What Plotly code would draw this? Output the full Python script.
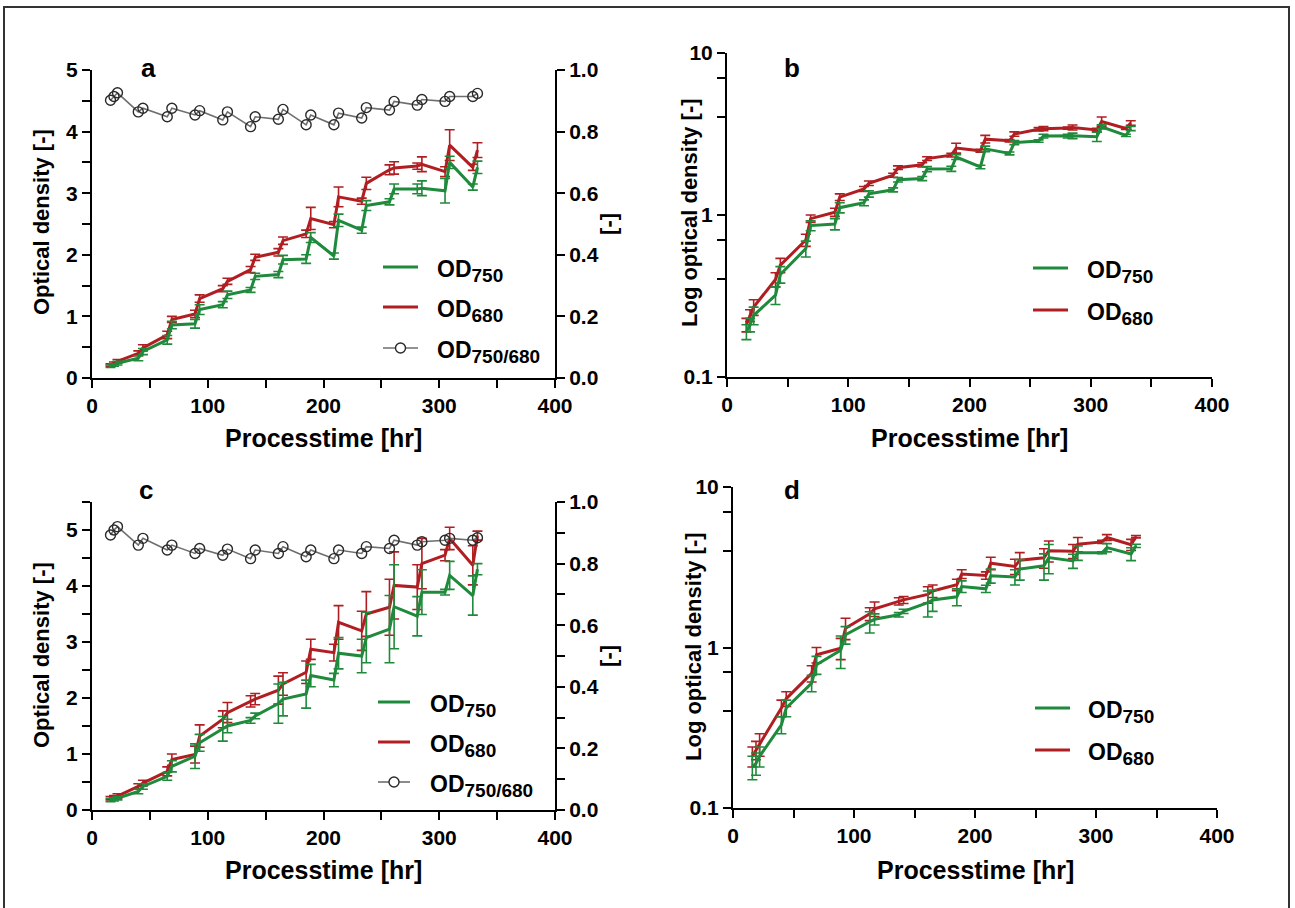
import plotly.graph_objects as go

# Sampling times (hours)
time_hr = [16, 19, 22, 40, 44, 65, 69, 89, 93, 113, 117, 137, 141, 161, 165,
           185, 189, 209, 213, 233, 237, 257, 261, 281, 285, 305, 309, 329, 333]

# Culture 1 (panels a, b)
od750_1 = [0.19, 0.21, 0.24, 0.32, 0.43, 0.62, 0.86, 0.88, 1.11, 1.19, 1.35, 1.43, 1.65, 1.68, 1.92,
           1.93, 2.28, 1.98, 2.56, 2.40, 2.80, 2.86, 3.07, 3.07, 3.08, 3.04, 3.50, 3.10, 3.42]
od750_1_sd = [0.02, 0.02, 0.03, 0.04, 0.05, 0.07, 0.06, 0.07, 0.08, 0.05, 0.06, 0.04, 0.05, 0.05, 0.07,
              0.07, 0.08, 0.05, 0.10, 0.05, 0.08, 0.05, 0.08, 0.08, 0.12, 0.20, 0.10, 0.05, 0.10]
od680_1 = [0.21, 0.24, 0.27, 0.40, 0.49, 0.70, 0.95, 1.04, 1.29, 1.45, 1.57, 1.76, 1.96, 2.04, 2.23,
           2.34, 2.59, 2.49, 2.94, 2.87, 3.16, 3.38, 3.41, 3.44, 3.47, 3.35, 3.78, 3.42, 3.70]
od680_1_sd = [0.02, 0.02, 0.03, 0.04, 0.05, 0.06, 0.05, 0.06, 0.06, 0.05, 0.05, 0.05, 0.05, 0.06, 0.06,
              0.06, 0.18, 0.05, 0.16, 0.05, 0.10, 0.08, 0.10, 0.05, 0.12, 0.08, 0.25, 0.05, 0.12]
ratio_1 = [0.902, 0.914, 0.926, 0.864, 0.876, 0.848, 0.876, 0.854, 0.868, 0.838, 0.864, 0.816, 0.848,
           0.840, 0.872, 0.822, 0.854, 0.822, 0.860, 0.844, 0.878, 0.870, 0.898, 0.886, 0.904, 0.898,
           0.914, 0.914, 0.924]

# Culture 2 (panels c, d)
od750_2 = [0.18, 0.19, 0.21, 0.33, 0.42, 0.60, 0.78, 0.96, 1.20, 1.45, 1.50, 1.60, 1.68, 1.90, 1.98,
           2.07, 2.40, 2.32, 2.80, 2.75, 3.08, 3.23, 3.63, 3.46, 3.89, 3.89, 4.19, 3.83, 4.30]
od750_2_sd = [0.03, 0.03, 0.03, 0.04, 0.05, 0.07, 0.10, 0.22, 0.15, 0.22, 0.12, 0.05, 0.05, 0.35, 0.30,
              0.25, 0.20, 0.12, 0.28, 0.30, 0.45, 0.60, 0.75, 0.35, 0.40, 0.05, 0.25, 0.35, 0.10]
od680_2 = [0.21, 0.23, 0.25, 0.42, 0.48, 0.69, 0.90, 0.99, 1.32, 1.62, 1.74, 1.94, 1.98, 2.14, 2.25,
           2.46, 2.87, 2.81, 3.35, 3.20, 3.50, 3.62, 4.01, 3.98, 4.40, 4.55, 4.85, 4.37, 4.90]
od680_2_sd = [0.03, 0.03, 0.04, 0.05, 0.05, 0.08, 0.10, 0.15, 0.20, 0.15, 0.18, 0.10, 0.10, 0.25, 0.20,
              0.20, 0.18, 0.15, 0.30, 0.35, 0.40, 0.50, 0.60, 0.40, 0.45, 0.10, 0.20, 0.35, 0.08]
ratio_2 = [0.893, 0.909, 0.920, 0.860, 0.882, 0.844, 0.860, 0.833, 0.849, 0.827, 0.847, 0.816, 0.844,
           0.833, 0.855, 0.822, 0.844, 0.816, 0.844, 0.833, 0.855, 0.849, 0.876, 0.860, 0.871, 0.876,
           0.882, 0.876, 0.884]

x_ticks = [0, 100, 200, 300, 400]
log_tickvals = [0.1, 0.4, 0.7, 1, 4, 7, 10]
log_ticktext = ["0.1", "", "", "1", "", "", "10"]

W, H = 1295, 908
GREEN = "#1f8a3b"
RED = "#b01e22"
GRAY = "#6e6e6e"
FONT = "Liberation Sans, Arial, sans-serif"


def px(x):
    return x / W


def py(y):
    return 1 - y / H


fig = go.Figure()


def od_traces(xa, ya, g, gsd, r, rsd):
    for vals, sd, col in ((r, rsd, RED), (g, gsd, GREEN)):
        fig.add_trace(go.Scatter(
            x=time_hr, y=vals, xaxis=xa, yaxis=ya, mode="lines",
            line=dict(color=col, width=3),
            error_y=dict(type="data", array=sd, color=col, thickness=1.6, width=5),
            showlegend=False))


def ratio_trace(xa, ya, vals):
    fig.add_trace(go.Scatter(
        x=time_hr, y=vals, xaxis=xa, yaxis=ya, mode="lines+markers",
        line=dict(color=GRAY, width=1.6),
        marker=dict(symbol="circle-open", size=10, color="#2a2a2a", line=dict(width=1.4)),
        showlegend=False))


od_traces("x", "y", od750_1, od750_1_sd, od680_1, od680_1_sd)
ratio_trace("x", "y5", ratio_1)
od_traces("x2", "y2", od750_1, od750_1_sd, od680_1, od680_1_sd)
od_traces("x3", "y3", od750_2, od750_2_sd, od680_2, od680_2_sd)
ratio_trace("x3", "y6", ratio_2)
od_traces("x4", "y4", od750_2, od750_2_sd, od680_2, od680_2_sd)

tickfont = dict(family=FONT, size=21, color="black", weight="bold")
minor_ticks = dict(ticks="outside", ticklen=8, tickwidth=2, tickcolor="black")
common = dict(showline=True, linecolor="black", linewidth=2, ticks="outside", ticklen=8,
              tickwidth=2, tickcolor="black", showgrid=False, zeroline=False,
              automargin=False, tickfont=tickfont)


def xaxis(x0, x1, anchor):
    return dict(domain=[px(x0), px(x1)], anchor=anchor, range=[0, 400],
                tickmode="array", tickvals=x_ticks,
                minor=dict(dtick=50, **minor_ticks), **common)


def lin_y(y0, y1, anchor, top):
    return dict(domain=[py(y1), py(y0)], anchor=anchor, range=[0, top], dtick=1,
                minor=dict(dtick=0.5, **minor_ticks), **common)


def ratio_y(y0, y1, anchor, over, minor):
    d = dict(domain=[py(y1), py(y0)], anchor=anchor, overlaying=over, side="right",
             range=[0, 1.0], dtick=0.2, tickformat=".1f", **common)
    if minor:
        d["minor"] = dict(dtick=0.1, **minor_ticks)
    return d


def log_y(y0, y1, anchor):
    return dict(domain=[py(y1), py(y0)], anchor=anchor, type="log", range=[-1, 1],
                tickmode="array", tickvals=log_tickvals, ticktext=log_ticktext, **common)


fig.update_layout(
    width=W, height=H, margin=dict(l=0, r=0, t=0, b=0, autoexpand=False),
    paper_bgcolor="white", plot_bgcolor="rgba(0,0,0,0)",
    xaxis=xaxis(92, 555, "y"),
    yaxis=lin_y(70, 378, "x", 5),
    yaxis5=ratio_y(70, 378, "x", "y", False),
    xaxis2=xaxis(727, 1212, "y2"),
    yaxis2=log_y(53, 377, "x2"),
    xaxis3=xaxis(92, 555, "y3"),
    yaxis3=lin_y(502, 810, "x3", 5.5),
    yaxis6=ratio_y(502, 810, "x3", "y3", True),
    xaxis4=xaxis(733, 1217, "y4"),
    yaxis4=log_y(487, 808, "x4"),
    showlegend=False,
)

annotations = []
shapes = []


def text(x, y, s, size=22, angle=0, xanchor="center"):
    annotations.append(dict(x=px(x), y=py(y), xref="paper", yref="paper", text=s,
                            showarrow=False, textangle=angle, xanchor=xanchor, yanchor="middle",
                            font=dict(family=FONT, size=size, color="black", weight="bold")))


# panel letters
for (lx, ly, s) in [(148, 68, "a"), (792, 68, "b"), (146, 490, "c"), (792, 490, "d")]:
    text(lx, ly, s, size=26)

# axis titles
text(323, 438, "Processtime [hr]", size=25)
text(970, 438, "Processtime [hr]", size=25)
text(323, 870, "Processtime [hr]", size=25)
text(975, 870, "Processtime [hr]", size=25)
text(41, 222, "Optical density [-]", angle=-90)
text(41, 655, "Optical density [-]", angle=-90)
text(689, 213, "Log optical density [-]", angle=-90)
text(693, 647, "Log optical density [-]", angle=-90)
text(613, 224, "[-]", angle=90)
text(613, 656, "[-]", angle=90)


def sub(s):
    return "OD<sub><span style='font-size:19px'>" + s + "</span></sub>"


def legend(x0, x1, tx, rows, with_ratio):
    items = [(GREEN, sub("750")), (RED, sub("680"))]
    if with_ratio:
        items.append((GRAY, sub("750/680")))
    for (col, lab), ry in zip(items, rows):
        shapes.append(dict(type="line", xref="paper", yref="paper", x0=px(x0), x1=px(x1),
                           y0=py(ry), y1=py(ry), line=dict(color=col, width=3 if col != GRAY else 1.6)))
        if col == GRAY:
            cx = (x0 + x1) / 2
            shapes.append(dict(type="circle", xref="paper", yref="paper",
                               x0=px(cx - 5), x1=px(cx + 5), y0=py(ry + 5), y1=py(ry - 5),
                               line=dict(color="#2a2a2a", width=1.4), fillcolor="white"))
        text(tx, ry + 4, lab, size=23, xanchor="left")


legend(383, 418, 435, [267, 307, 348], True)
legend(1033, 1068, 1085, [268, 310], False)
legend(378, 410, 428, [702, 742, 782], True)
legend(1035, 1070, 1086, [708, 750], False)

# outer frame
shapes.append(dict(type="rect", xref="paper", yref="paper", x0=px(4), x1=px(1289),
                   y0=-0.02, y1=py(7), line=dict(color="#333333", width=2)))

fig.update_layout(annotations=annotations, shapes=shapes)
fig.write_html("out.html")
